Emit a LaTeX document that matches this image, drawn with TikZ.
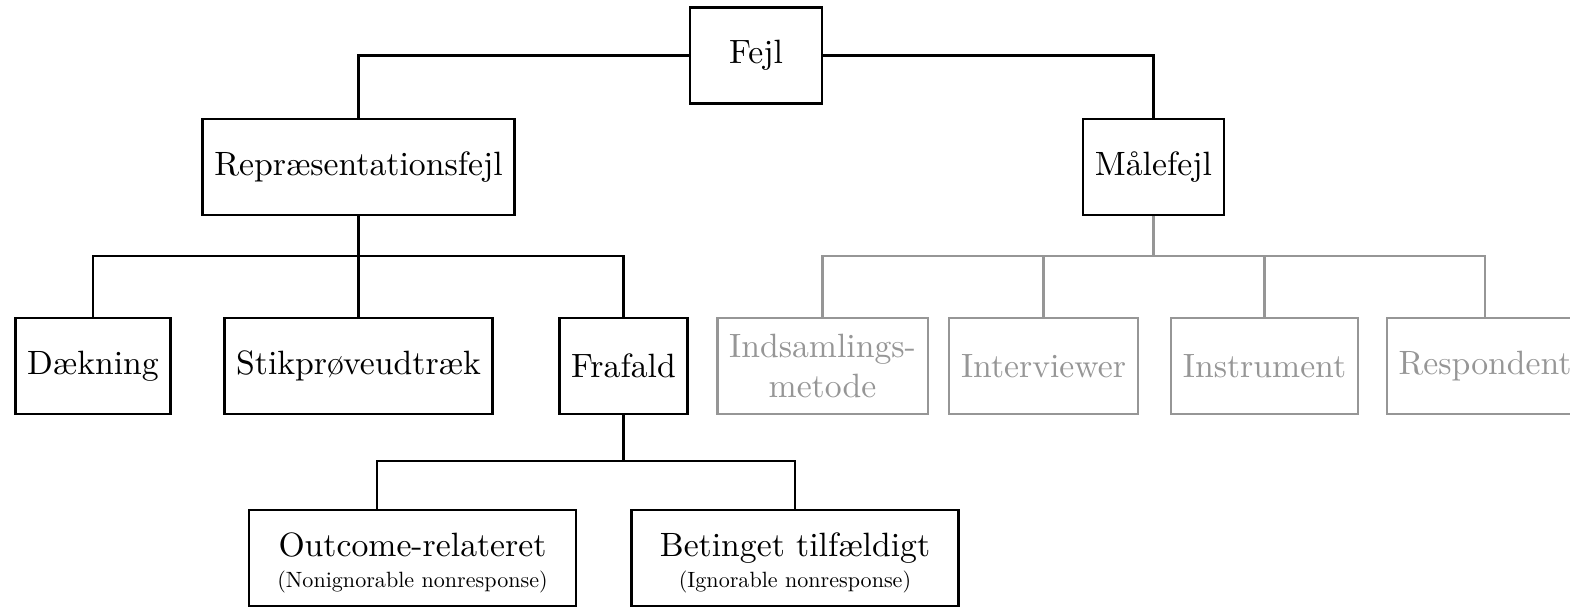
\documentclass[tikz,border=0pt]{standalone}
\definecolor{maalegray}{RGB}{150,150,150}
\newcommand{\smalltxt}[1]{\scalebox{0.655}{#1}}
\begin{document}
\begin{tikzpicture}[x=0.2966pt,y=-0.2966pt,
    box/.style={draw,line width=0.7pt,minimum height=28.5pt,inner xsep=3.5pt},
    graybox/.style={box,draw=maalegray,text=maalegray},
    link/.style={line width=0.65pt},
    graylink/.style={link,draw=maalegray}]
    \clip (0,0) rectangle (1570,610);
    % top and first level
    \node[box,minimum width=39pt] (fejl) at (756,55.5) {Fejl};
    \node[box] (repr) at (358.5,167) {Repræsentationsfejl};
    \node[box] (maale) at (1153.5,167) {Målefejl};
    \draw[link] (fejl.west) -| (repr.north);
    \draw[link] (fejl.east) -| (maale.north);
    % repræsentation
    \node[box] (daek) at (93,366) {Dækning};
    \node[box] (stik) at (358.5,366) {Stikprøveudtræk};
    \node[box] (frafald) at (623.5,366) {Frafald};
    \coordinate (repbus) at (358.5,256);
    \draw[link] (repr.south) -- (repbus) -| (daek.north);
    \draw[link] (repbus) -| (frafald.north);
    \draw[link] (repbus) -- (stik.north);
    % frafald
    \node[box,minimum width=97pt,align=center] (outcome) at (412.5,558)
        {\rule{0pt}{10pt}Outcome-relateret\\[-3pt]\smalltxt{(Nonignorable nonresponse)}};
    \node[box,minimum width=97pt,align=center] (betinget) at (795,558)
        {\rule{0pt}{10pt}Betinget tilfældigt\\[-3pt]\smalltxt{(Ignorable nonresponse)}};
    \coordinate (frabus) at (623.5,461);
    \draw[link] (frafald.south) -- (frabus) -| ([xshift=-10.5pt]outcome.north);
    \draw[link] (frabus) -| (betinget.north);
    % måling (grå)
    \node[graybox,align=center] (metode) at (822.5,366) {Indsamlings-\\metode};
    \node[graybox] (interv) at (1043.5,366) {Interviewer};
    \node[graybox] (instr) at (1264.5,366) {Instrument};
    \node[graybox] (resp) at (1485,366) {Respondent};
    \coordinate (maalebus) at (1153.5,256);
    \draw[graylink] (maale.south) -- (maalebus) -| (metode.north);
    \draw[graylink] (maalebus) -| (interv.north);
    \draw[graylink] (maalebus) -| (instr.north);
    \draw[graylink] (maalebus) -| (resp.north);
\end{tikzpicture}
\end{document}
